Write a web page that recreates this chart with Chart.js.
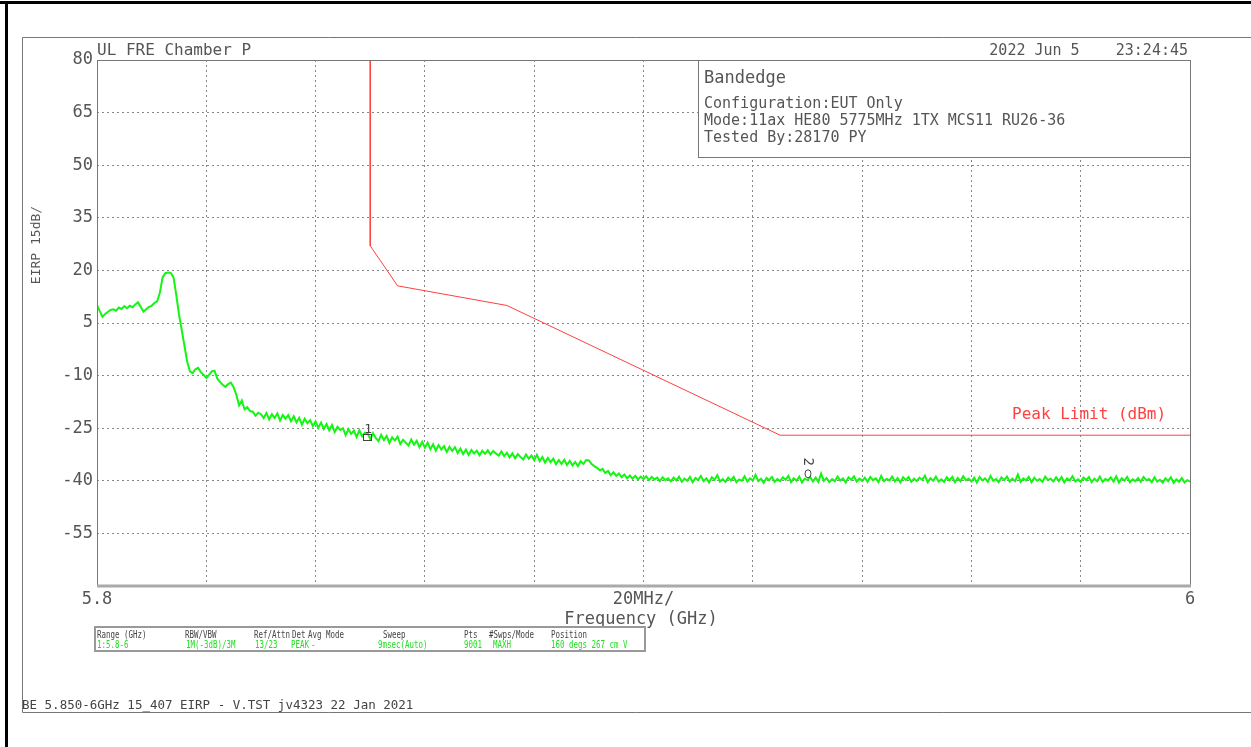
<!DOCTYPE html>
<html>
<head>
<meta charset="utf-8">
<script src="https://cdn.jsdelivr.net/npm/chart.js@4.4.1/dist/chart.umd.min.js"></script>
<style>
  html, body { margin: 0; padding: 0; background: #fff; }
  canvas { display: block; }
</style>
</head>
<body>
<canvas id="grafico" width="1251" height="747"></canvas>
<script>
// trace levels (dBm), evenly spaced from 5.8 to 6 GHz
const traceStart = 5.8;
const traceStop = 6.0;
const traceLevels = [
  10.1, 8.4, 6.8, 7.6, 8.2, 8.7, 8.9, 8.5, 9.4, 9.0,
  9.8, 9.2, 9.9, 9.5, 10.3, 10.9, 9.6, 8.2, 8.9, 9.6,
  9.9, 10.7, 11.2, 13.6, 18.0, 19.2, 19.4, 19.3, 18.0, 13.0,
  7.5, 3.0, -1.5, -6.0, -8.8, -9.3, -8.2, -7.8, -9.0, -9.8,
  -10.7, -9.8, -8.8, -8.6, -10.8, -11.8, -12.6, -13.2, -12.4, -12.0,
  -13.3, -15.5, -18.5, -17.1, -19.6, -19.0, -20.1, -20.3, -21.4, -20.6,
  -21.0, -22.1, -20.7, -22.5, -21.0, -22.1, -20.8, -22.8, -21.2, -22.3,
  -21.3, -23.0, -21.6, -23.3, -22.0, -24.0, -22.3, -23.6, -22.7, -24.4,
  -23.1, -24.9, -23.4, -25.2, -23.8, -25.6, -24.1, -26.1, -24.6, -25.5,
  -25.0, -27.0, -25.3, -26.6, -25.7, -27.5, -25.6, -27.3, -26.3, -26.4,
  -28.1, -26.4, -27.8, -28.7, -26.9, -28.4, -27.2, -29.2, -27.6, -28.5,
  -27.4, -29.5, -28.3, -29.1, -29.9, -28.2, -29.7, -28.6, -30.4, -28.9,
  -30.6, -29.1, -31.0, -29.6, -31.4, -29.8, -31.1, -30.1, -31.8, -30.3,
  -31.5, -30.4, -32.1, -30.8, -32.4, -31.1, -32.6, -31.2, -32.2, -31.4,
  -32.7, -31.4, -32.3, -31.3, -32.5, -31.5, -32.2, -32.8, -31.6, -33.0,
  -32.0, -33.3, -32.2, -33.6, -32.4, -33.2, -33.9, -32.5, -33.7, -32.8,
  -34.1, -32.6, -34.4, -33.2, -34.8, -33.5, -34.7, -33.7, -35.3, -34.1,
  -35.2, -34.0, -35.5, -34.3, -35.6, -34.6, -35.8, -34.4, -35.2, -34.1,
  -34.2, -35.2, -35.8, -36.3, -37.0, -36.6, -37.8, -37.2, -38.4, -37.6,
  -38.6, -37.9, -39.0, -38.2, -39.3, -38.5, -39.4, -38.6, -39.6, -38.8,
  -39.5, -38.7, -39.8, -38.9, -39.6, -39.1, -40.1, -39.0, -39.8, -39.3,
  -40.2, -39.1, -39.9, -38.8, -40.3, -39.4, -40.0, -38.9, -40.4, -39.2,
  -39.8, -38.6, -40.1, -39.3, -40.5, -39.0, -39.7, -38.4, -40.2, -39.5,
  -40.3, -39.1, -39.9, -38.9, -40.4, -39.6, -40.0, -38.7, -40.2, -39.3,
  -39.9, -38.3, -40.1, -39.4, -40.6, -39.2, -39.8, -38.9, -40.3, -39.5,
  -40.1, -39.0, -39.7, -38.6, -40.4, -39.3, -40.0, -38.8, -40.5, -39.4,
  -39.8, -38.9, -40.2, -39.1, -40.3, -37.9, -40.0, -39.2, -40.4, -39.5,
  -40.1, -38.8, -39.9, -39.3, -40.5, -39.0, -39.7, -38.7, -40.2, -39.4,
  -40.0, -39.1, -40.3, -38.9, -39.8, -39.3, -40.4, -38.6, -40.1, -39.5,
  -39.9, -38.8, -40.2, -39.2, -40.5, -39.0, -39.8, -38.9, -40.3, -39.4,
  -40.1, -39.1, -39.7, -38.5, -40.4, -39.3, -40.0, -38.8, -40.2, -39.6,
  -40.3, -39.0, -39.9, -38.9, -40.4, -39.2, -40.1, -38.7, -39.8, -39.4,
  -40.2, -39.1, -40.5, -38.9, -39.9, -39.3, -40.3, -38.6, -40.0, -39.5,
  -40.4, -39.0, -39.8, -38.8, -40.2, -39.4, -40.1, -38.2, -40.3, -39.3,
  -39.9, -38.9, -40.4, -39.1, -40.0, -39.5, -40.3, -38.8, -39.8, -39.4,
  -40.2, -39.0, -40.1, -38.9, -40.5, -39.3, -39.9, -38.7, -40.2, -39.6,
  -40.3, -39.1, -39.8, -38.9, -40.4, -39.4, -40.1, -38.8, -40.3, -39.5,
  -39.9, -39.0, -40.2, -38.7, -40.5, -39.3, -40.0, -38.9, -40.4, -39.6,
  -40.1, -39.2, -40.3, -38.9, -39.8, -39.5, -40.4, -39.0, -40.2, -39.7,
  -40.5, -39.3, -40.1, -39.0, -40.6, -39.6, -40.3, -39.2, -40.5, -39.8, -40.2
];

// peak limit line (dBm)
const limitFreqs = [5.85, 5.85, 5.855, 5.875, 5.925, 6.0];
const limitLevels = [80, 27, 15.6, 10, -27, -27];

// markers
const markerNames = ['1', '2'];
const markerFreqs = [5.8496, 5.9301];
const markerLevels = [-27.8, -38.0];

// axes
const xTicks = [5.8, 5.82, 5.84, 5.86, 5.88, 5.9, 5.92, 5.94, 5.96, 5.98, 6.0];
const xTickLabels = ['5.8', '', '', '', '', '20MHz/', '', '', '', '', '6'];
const yTicks = [80, 65, 50, 35, 20, 5, -10, -25, -40, -55, -70];
const yTickLabels = ['80', '65', '50', '35', '20', '5', '-10', '-25', '-40', '-55', ''];

const mono = '"DejaVu Sans Mono", monospace';
const gris = '#555';

const paso = (traceStop - traceStart) / (traceLevels.length - 1);
const traza = traceLevels.map((v, i) => ({ x: traceStart + i * paso, y: v }));
const limite = limitFreqs.map((f, i) => ({ x: f, y: limitLevels[i] }));

function texto(ctx, t, x, y, size, color, align) {
  ctx.font = size + 'px ' + mono;
  ctx.fillStyle = color;
  ctx.textAlign = align || 'left';
  ctx.textBaseline = 'alphabetic';
  ctx.fillText(t, x, y);
}

function textoAngosto(ctx, t, x, y, color) {
  ctx.save();
  ctx.translate(x, y);
  ctx.scale(0.68, 1);
  ctx.font = '11px ' + mono;
  ctx.fillStyle = color;
  ctx.textAlign = 'left';
  ctx.textBaseline = 'alphabetic';
  ctx.fillText(t, 0, 0);
  ctx.restore();
}

const decorado = {
  id: 'decorado',
  beforeDraw(chart) {
    const ctx = chart.ctx;
    ctx.save();
    ctx.fillStyle = '#fff';
    ctx.fillRect(0, 0, chart.width, chart.height);
    ctx.restore();
  },
  afterDatasetsDraw(chart) {
    const ctx = chart.ctx;
    const a = chart.chartArea;
    const xs = chart.scales.x, ys = chart.scales.y;
    ctx.save();
    // plot frame
    ctx.strokeStyle = '#777';
    ctx.lineWidth = 1;
    ctx.setLineDash([]);
    ctx.strokeRect(a.left + 0.5, a.top + 0.5, a.right - a.left, a.bottom - a.top);
    ctx.strokeStyle = '#aaa';
    ctx.lineWidth = 3;
    ctx.beginPath();
    ctx.moveTo(a.left, a.bottom);
    ctx.lineTo(a.right + 1, a.bottom);
    ctx.stroke();

    // info box
    ctx.fillStyle = '#fff';
    ctx.fillRect(698, a.top, a.right - 698, 97);
    ctx.strokeStyle = '#777';
    ctx.lineWidth = 1;
    ctx.strokeRect(698.5, a.top + 0.5, a.right - 698, 97);
    texto(ctx, 'Bandedge', 704, 83, 17, gris);
    texto(ctx, 'Configuration:EUT Only', 704, 108, 15, gris);
    texto(ctx, 'Mode:11ax HE80 5775MHz 1TX MCS11 RU26-36', 704, 125, 15, gris);
    texto(ctx, 'Tested By:28170 PY', 704, 142, 15, gris);

    texto(ctx, 'Peak Limit (dBm)', 1012, 419, 16, '#ff4040');

    // markers
    markerNames.forEach((n, i) => {
      const px = xs.getPixelForValue(markerFreqs[i]);
      const py = ys.getPixelForValue(markerLevels[i]);
      ctx.strokeStyle = '#444';
      ctx.lineWidth = 1;
      if (i === 0) {
        ctx.strokeRect(Math.round(px) - 4.5, Math.round(py) - 3.5, 8, 6);
        texto(ctx, n, px, py - 5, 13, '#444', 'center');
      } else {
        ctx.beginPath();
        ctx.ellipse(px, py, 3, 4, 0, 0, Math.PI * 2);
        ctx.stroke();
        ctx.save();
        ctx.translate(px, py - 12);
        ctx.rotate(Math.PI / 2);
        ctx.font = '14px ' + mono;
        ctx.fillStyle = '#444';
        ctx.textAlign = 'center';
        ctx.textBaseline = 'middle';
        ctx.fillText(n, 0, 0);
        ctx.restore();
      }
    });
    ctx.restore();
  },
  afterDraw(chart) {
    const ctx = chart.ctx;
    ctx.save();
    // outer borders
    ctx.fillStyle = '#000';
    ctx.fillRect(0, 1, chart.width, 3);
    ctx.fillRect(5, 1, 3, chart.height);
    ctx.strokeStyle = '#777';
    ctx.lineWidth = 1;
    ctx.beginPath();
    ctx.moveTo(chart.width, 37.5);
    ctx.lineTo(22.5, 37.5);
    ctx.lineTo(22.5, 712.5);
    ctx.lineTo(chart.width, 712.5);
    ctx.stroke();

    texto(ctx, 'UL FRE Chamber P', 97, 55, 16, gris);
    texto(ctx, '2022 Jun 5    23:24:45', 1188, 55, 15, gris, 'right');
    texto(ctx, 'Frequency (GHz)', 641, 624, 17, gris, 'center');

    ctx.save();
    ctx.translate(40, 245);
    ctx.rotate(-Math.PI / 2);
    texto(ctx, 'EIRP 15dB/', 0, 0, 13, gris, 'center');
    ctx.restore();

    // settings table
    ctx.strokeStyle = '#999';
    ctx.lineWidth = 2;
    ctx.strokeRect(95, 627, 550, 24);
    const verde = '#22dd22';
    const cols = [
      ['Range (GHz)', 97, '1:5.8-6', 97],
      ['RBW/VBW', 185, '1M(-3dB)/3M', 186],
      ['Ref/Attn', 254, '13/23', 255],
      ['Det', 292, 'PEAK', 291],
      ['Avg Mode', 308, '-', 311],
      ['Sweep', 383, '9msec(Auto)', 378],
      ['Pts', 464, '9001', 464],
      ['#Swps/Mode', 489, 'MAXH', 493],
      ['Position', 551, '160 degs 267 cm V', 551]
    ];
    cols.forEach(c => {
      textoAngosto(ctx, c[0], c[1], 638, '#444');
      textoAngosto(ctx, c[2], c[3], 648, verde);
    });

    texto(ctx, 'BE 5.850-6GHz 15_407 EIRP - V.TST jv4323 22 Jan 2021', 22, 709, 12.5, '#444');
    ctx.restore();
  }
};

new Chart(document.getElementById('grafico'), {
  type: 'line',
  data: {
    datasets: [
      {
        label: 'Trace',
        data: traza,
        borderColor: 'rgb(20,245,20)',
        borderWidth: 2,
        pointRadius: 0,
        tension: 0
      },
      {
        label: 'Peak Limit (dBm)',
        data: limite,
        borderColor: '#ff4040',
        borderWidth: 1,
        pointRadius: 0,
        tension: 0
      }
    ]
  },
  options: {
    responsive: false,
    animation: false,
    layout: { padding: { left: 0, top: 60, right: 61, bottom: 121 } },
    plugins: { legend: { display: false }, tooltip: { enabled: false } },
    scales: {
      x: {
        type: 'linear',
        min: traceStart,
        max: traceStop,
        afterBuildTicks: s => { s.ticks = xTicks.map(v => ({ value: v })); },
        afterFit: s => { s.height = 40; },
        ticks: {
          autoSkip: false,
          maxRotation: 0,
          padding: 3,
          color: gris,
          font: { family: mono, size: 17 },
          callback: (v, i) => xTickLabels[i]
        },
        grid: { color: '#888', lineWidth: 1, drawTicks: false },
        border: { display: false, dash: [2, 3] }
      },
      y: {
        type: 'linear',
        min: -70,
        max: 80,
        afterBuildTicks: s => { s.ticks = yTicks.map(v => ({ value: v })); },
        afterFit: s => { s.width = 97; },
        ticks: {
          autoSkip: false,
          padding: 4,
          color: gris,
          font: { family: mono, size: 17 },
          callback: (v, i) => yTickLabels[i]
        },
        grid: { color: '#888', lineWidth: 1, drawTicks: false },
        border: { display: false, dash: [2, 3] }
      }
    }
  },
  plugins: [decorado]
});
</script>
</body>
</html>
